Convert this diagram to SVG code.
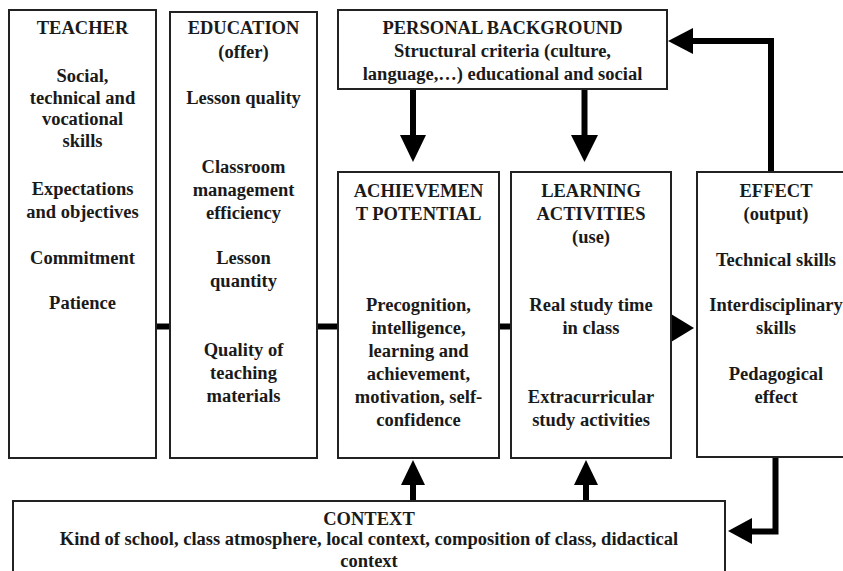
<svg xmlns="http://www.w3.org/2000/svg" width="843" height="571" viewBox="0 0 843 571">
<style>
.box{fill:#fff;stroke:#222;stroke-width:2}
.t{font-family:'Liberation Serif','DejaVu Serif',serif;font-weight:700;font-size:18.5px;fill:#1a1a1a;text-anchor:middle}
.ln{stroke:#000;stroke-width:6;fill:none}
.ah{fill:#000;stroke:none}
</style>
<rect x="0" y="0" width="843" height="571" fill="#fff"/>
<g id="connectors">
<line class="ln" x1="155" y1="326.5" x2="171" y2="326.5"/>
<line class="ln" x1="316" y1="326.5" x2="339" y2="326.5"/>
<line class="ln" x1="495" y1="326.5" x2="512" y2="326.5"/>
<polygon class="ah" points="671,314 671,342 694,328"/>
<line class="ln" x1="413" y1="89" x2="413" y2="137"/>
<polygon class="ah" points="400,135 426,135 413,162"/>
<line class="ln" x1="584.5" y1="89" x2="584.5" y2="137"/>
<polygon class="ah" points="571,135 598,135 584.5,162"/>
<polyline class="ln" points="771,173 771,41 690,41"/>
<polygon class="ah" points="693,28 693,54 668,41"/>
<line class="ln" x1="413" y1="502" x2="413" y2="482"/>
<polygon class="ah" points="401,485 425,485 413,460"/>
<line class="ln" x1="586" y1="502" x2="586" y2="482"/>
<polygon class="ah" points="574,485 598,485 586,460"/>
<polyline class="ln" points="775.5,457 775.5,531.5 749,531.5"/>
<polygon class="ah" points="752,518 752,544 728,531"/>
</g>
<g id="teacher">
<rect class="box" x="9" y="10" width="147" height="448"/>
<text class="t" x="82.5" y="34">TEACHER</text>
<text class="t" x="82.5" y="82">Social,</text>
<text class="t" x="82.5" y="103.5">technical and</text>
<text class="t" x="82.5" y="125">vocational</text>
<text class="t" x="82.5" y="147">skills</text>
<text class="t" x="82.5" y="195">Expectations</text>
<text class="t" x="82.5" y="218">and objectives</text>
<text class="t" x="82.5" y="264">Commitment</text>
<text class="t" x="82.5" y="309">Patience</text>
</g>
<g id="education">
<rect class="box" x="170" y="12" width="147" height="446"/>
<text class="t" x="243.5" y="34">EDUCATION</text>
<text class="t" x="243.5" y="58">(offer)</text>
<text class="t" x="243.5" y="104">Lesson quality</text>
<text class="t" x="243.5" y="173">Classroom</text>
<text class="t" x="243.5" y="196">management</text>
<text class="t" x="243.5" y="219">efficiency</text>
<text class="t" x="243.5" y="264">Lesson</text>
<text class="t" x="243.5" y="287">quantity</text>
<text class="t" x="243.5" y="356">Quality of</text>
<text class="t" x="243.5" y="379">teaching</text>
<text class="t" x="243.5" y="402">materials</text>
</g>
<g id="personal-background">
<rect class="box" x="338" y="10" width="329" height="79"/>
<text class="t" x="502.5" y="34">PERSONAL BACKGROUND</text>
<text class="t" x="502.5" y="57">Structural criteria (culture,</text>
<text class="t" x="502.5" y="80">language,…) educational and social</text>
</g>
<g id="achievement">
<rect class="box" x="338" y="172" width="161" height="286"/>
<text class="t" x="418.5" y="197">ACHIEVEMEN</text>
<text class="t" x="418.5" y="220">T POTENTIAL</text>
<text class="t" x="418.5" y="311">Precognition,</text>
<text class="t" x="418.5" y="334">intelligence,</text>
<text class="t" x="418.5" y="357">learning and</text>
<text class="t" x="418.5" y="380">achievement,</text>
<text class="t" x="418.5" y="403">motivation, self-</text>
<text class="t" x="418.5" y="426">confidence</text>
</g>
<g id="learning">
<rect class="box" x="511" y="172" width="160" height="286"/>
<text class="t" x="591" y="197">LEARNING</text>
<text class="t" x="591" y="220">ACTIVITIES</text>
<text class="t" x="591" y="243">(use)</text>
<text class="t" x="591" y="311">Real study time</text>
<text class="t" x="591" y="334">in class</text>
<text class="t" x="591" y="403">Extracurricular</text>
<text class="t" x="591" y="426">study activities</text>
</g>
<g id="effect">
<rect class="box" x="697" y="172" width="160" height="285"/>
<text class="t" x="776" y="197">EFFECT</text>
<text class="t" x="776" y="220">(output)</text>
<text class="t" x="776" y="266">Technical skills</text>
<text class="t" x="776" y="311">Interdisciplinary</text>
<text class="t" x="776" y="334">skills</text>
<text class="t" x="776" y="380">Pedagogical</text>
<text class="t" x="776" y="403">effect</text>
</g>
<g id="context">
<rect class="box" x="13" y="501" width="712" height="90"/>
<text class="t" x="369" y="525">CONTEXT</text>
<text class="t" x="369" y="545">Kind of school, class atmosphere, local context, composition of class, didactical</text>
<text class="t" x="369" y="567">context</text>
</g>
</svg>
